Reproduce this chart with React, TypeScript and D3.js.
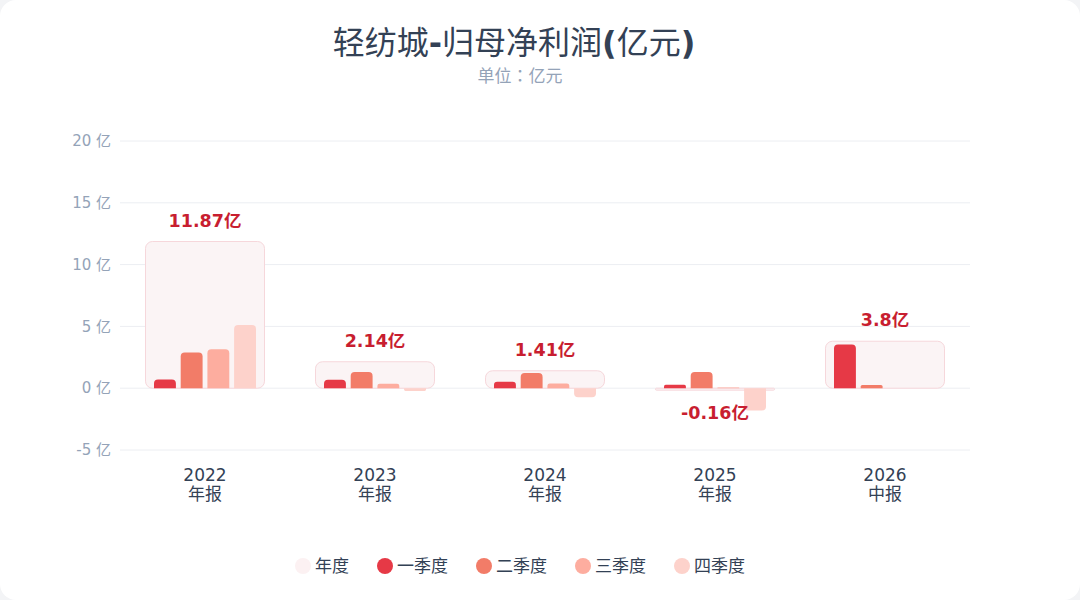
import { useEffect } from "react";
import * as d3 from "d3";

// 轻纺城 归母净利润, 单位：亿元
const categories = ["2022", "2023", "2024", "2025", "2026"];
const periods = ["年报", "年报", "年报", "年报", "中报"];
const annual = [11.87, 2.14, 1.41, -0.16, 3.8];
const q1 = [0.7, 0.68, 0.53, 0.27, 3.54];
const q2 = [2.89, 1.32, 1.22, 1.32, 0.26];
const q3 = [3.16, 0.36, 0.39, 0.05, null];
const q4 = [5.12, -0.22, -0.73, -1.8, null];
const yTicks = [-5, 0, 5, 10, 15, 20];

const seriesNames = ["一季度", "二季度", "三季度", "四季度"];
const seriesColors = ["#e63946", "#f27c68", "#fdad9f", "#fdd2cb"];
const quarters = [q1, q2, q3, q4];

const W = 1080;
const H = 600;
const FONT = "'DejaVu Sans', 'Noto Sans CJK SC', sans-serif";

// bar with rounded corners on the end away from zero
function barPath(x: number, w: number, y0: number, y1: number, r: number) {
  const h = Math.abs(y1 - y0);
  const rr = Math.min(r, h / 2, w / 2);
  if (y1 <= y0) {
    // positive, grows up
    return `M${x},${y0}V${y1 + rr}Q${x},${y1} ${x + rr},${y1}H${x + w - rr}Q${x + w},${y1} ${x + w},${y1 + rr}V${y0}Z`;
  }
  return `M${x},${y0}V${y1 - rr}Q${x},${y1} ${x + rr},${y1}H${x + w - rr}Q${x + w},${y1} ${x + w},${y1 - rr}V${y0}Z`;
}

export default function App() {
  useEffect(() => {
    document.body.style.margin = "0";
    document.body.style.background = "#f3f4f6";
  }, []);

  const x = d3.scaleBand<string>().domain(categories).range([120, 970]);
  const y = d3.scaleLinear().domain([-5, 20]).range([450, 141]);
  const sub = d3
    .scaleBand<number>()
    .domain([0, 1, 2, 3])
    .range([-51, 51])
    .paddingInner(0.18);

  const boxW = x.bandwidth() * 0.7;
  const cx = 520;

  // legend layout
  const legendItems = [{ name: "年度", color: "#fcf1f2" }].concat(
    seriesNames.map((n, i) => ({ name: n, color: seriesColors[i] }))
  );
  const itemWidths = legendItems.map((d) => 16 + 4 + d.name.length * 17);
  const gap = 28;
  const total = d3.sum(itemWidths) + gap * (legendItems.length - 1);
  let lx = cx - total / 2;
  const legendX = itemWidths.map((w) => {
    const s = lx;
    lx += w + gap;
    return s;
  });

  return (
    <svg width={W} height={H} style={{ display: "block", fontFamily: FONT }}>
      <rect x={0} y={0} width={W} height={H} rx={16} fill="#ffffff" />

      <text x={514} y={54} textAnchor="middle" fontSize={32} fill="#334155">
        <tspan>轻纺城</tspan>
        <tspan fontWeight="bold">-</tspan>
        <tspan>归母净利润</tspan>
        <tspan fontWeight="bold">(</tspan>
        <tspan>亿元</tspan>
        <tspan fontWeight="bold">)</tspan>
      </text>
      <text
        x={cx}
        y={82}
        textAnchor="middle"
        fontSize={17}
        fill="#94a3b8"
        fontFamily="'Noto Sans CJK TC', 'Noto Sans CJK SC', sans-serif"
      >
        单位：亿元
      </text>

      {yTicks.map((t) => (
        <g key={t}>
          <line x1={120} x2={970} y1={y(t)} y2={y(t)} stroke="#eceef2" strokeWidth={1} />
          <text
            x={111}
            y={y(t)}
            dy="0.35em"
            textAnchor="end"
            fontSize={15}
            fill="#94a3b8"
          >
            {`${t} 亿`}
          </text>
        </g>
      ))}

      {categories.map((c, i) => {
        const center = (x(c) as number) + x.bandwidth() / 2;
        const v = annual[i];
        const top = y(Math.max(v, 0));
        const bottom = y(Math.min(v, 0));
        const labelY = v >= 0 ? top - 21 : bottom + 23;
        return (
          <g key={c}>
            <rect
              x={center - boxW / 2}
              y={top}
              width={boxW}
              height={Math.max(bottom - top, 1)}
              rx={Math.min(7, (bottom - top) / 2)}
              fill="#fbf4f5"
              stroke="#f6d7db"
              strokeWidth={1}
            />
            {quarters.map((q, k) => {
              const val = q[i];
              if (val == null) return null;
              const bx = center + (sub(k) as number);
              return (
                <path
                  key={k}
                  d={barPath(bx, sub.bandwidth(), y(0), y(val), 4)}
                  fill={seriesColors[k]}
                />
              );
            })}
            <text
              x={center}
              y={labelY}
              dy="0.35em"
              textAnchor="middle"
              fontSize={17.5}
              fontWeight="bold"
              fill="#c81e30"
            >
              {`${v}亿`}
            </text>
            <text x={center} y={481} textAnchor="middle" fontSize={17} fill="#334155">
              {c}
            </text>
            <text x={center} y={500} textAnchor="middle" fontSize={17} fill="#334155">
              {periods[i]}
            </text>
          </g>
        );
      })}

      {legendItems.map((d, i) => (
        <g key={d.name} transform={`translate(${legendX[i]},566)`}>
          <circle cx={8} cy={0} r={8} fill={d.color} />
          <text x={20} y={0} dy="0.35em" fontSize={17} fill="#334155">
            {d.name}
          </text>
        </g>
      ))}
    </svg>
  );
}
